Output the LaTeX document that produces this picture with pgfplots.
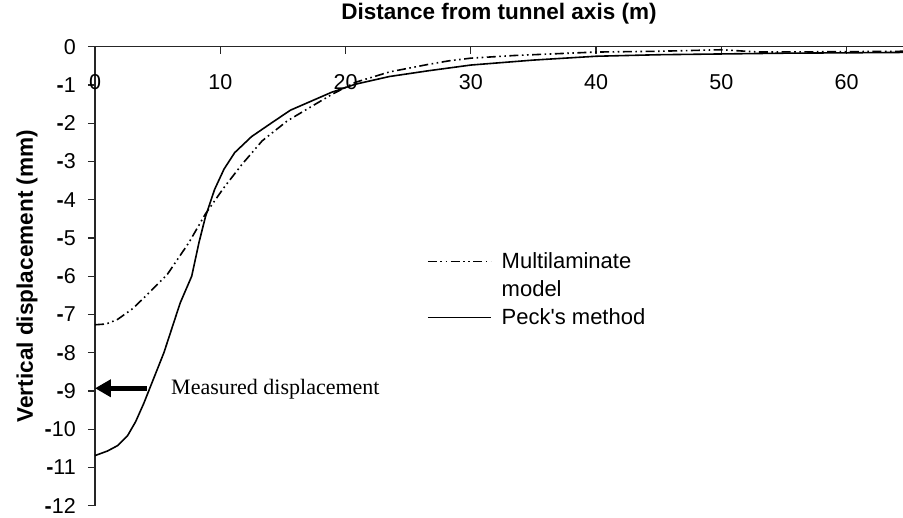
\documentclass[border=0pt]{standalone}
\usepackage{fontspec}
\setmainfont[Ligatures=TeXOff]{Liberation Sans}
\newfontfamily\serifface{Liberation Serif}
\usepackage{pgfplots}
\pgfplotsset{compat=1.18}
\usetikzlibrary{arrows.meta}

% Settlement trough predicted by Peck's empirical method
\pgfplotstableread{
x      y
0      -10.69
1.0    -10.57
1.8    -10.43
2.6    -10.17
3.25   -9.80
3.9    -9.32
5.5    -8.00
6.8    -6.70
7.72   -6.00
8.3    -5.12
8.83   -4.43
9.55   -3.73
10.3   -3.20
11.15  -2.77
12.5   -2.35
14.15  -1.98
15.6   -1.66
18.9   -1.19
20.8   -0.98
23.5   -0.78
26.6   -0.63
30     -0.48
35     -0.35
40     -0.25
45     -0.21
50     -0.19
55     -0.17
60     -0.16
64.5   -0.15
}\peck

% Settlement trough from the multilaminate model
\pgfplotstableread{
x      y
0      -7.27
0.9    -7.25
1.8    -7.13
3.0    -6.85
4.05   -6.52
5.78   -5.95
7.5    -5.12
8.8    -4.38
10.3   -3.68
11.75  -3.07
13.35  -2.46
15.35  -1.94
17.35  -1.55
18.95  -1.24
20.8   -0.93
23.5   -0.66
26.65  -0.46
28.25  -0.37
30     -0.30
33.5   -0.23
40     -0.14
45     -0.12
50     -0.08
53     -0.14
60     -0.13
64.5   -0.12
}\multi

\tikzset{
  dashdotdot/.style={dash pattern=on 9pt off 3.5pt on 1.6pt off 3.5pt on 1.6pt off 3.5pt},
  curve/.style={black, line width=1.6pt},
}
\newcommand\mn{\textbf{-}}

\begin{document}
\begin{tikzpicture}
\path[use as bounding box] (0,0) rectangle (903pt,518pt);
\begin{axis}[
  at={(95pt,12.3pt)}, anchor=south west,
  scale only axis, width=808pt, height=459pt,
  xmin=0, xmax=64.5, ymin=-12, ymax=0,
  clip=false,
  axis x line=top, axis y line=left,
  x axis line style={-}, y axis line style={-},
  axis line style={line width=1.2pt, black!85},
  xtick={0,10,...,60},
  xticklabels={0,10,20,30,40,50,60},
  ytick={-12,-11,...,0},
  yticklabels={\mn12,\mn11,\mn10,\mn9,\mn8,\mn7,\mn6,\mn5,\mn4,\mn3,\mn2,\mn1,0},
  xtick align=inside, ytick align=outside,
  major tick length=7pt,
  tick style={line width=1.2pt, black!85},
  tick label style={font=\fontsize{21.5}{25}\selectfont},
  xticklabel style={anchor=center, yshift=-35pt},
  yticklabel style={anchor=east, inner sep=0pt, xshift=-12pt},
  title={Distance from tunnel axis (m)},
  title style={at={(axis description cs:0.5,1)}, anchor=base, yshift=20.7pt,
    font=\bfseries\fontsize{22.5}{26}\selectfont},
  ylabel={Vertical displacement (mm)},
  ylabel style={at={(axis description cs:-0.077,0.5)}, anchor=base,
    font=\bfseries\fontsize{22.6}{26}\selectfont},
  legend image code/.code={\draw[#1] (0pt,0pt) -- (63pt,0pt);},
  legend cell align=left,
  legend style={at={(axis description cs:0.4108,0.4708)}, anchor=west,
    draw=none, fill=none, inner sep=0pt, column sep=10pt, row sep=0pt,
    nodes={inner sep=0pt, text height=21pt, text depth=7pt,
      font=\fontsize{22}{26}\selectfont}},
]
\addplot[curve, forget plot] table {\peck};
\addplot[curve, dashdotdot, forget plot] table {\multi};

\addlegendimage{curve, dashdotdot}
\addlegendentry{Multilaminate}
\addlegendimage{empty legend}
\addlegendentry{model}
\addlegendimage{curve}
\addlegendentry{Peck's method}

% measured settlement above the tunnel axis
\draw[line width=4.5pt, -{Triangle[length=16pt,width=17pt]}]
  (axis cs:4.15,-8.93) -- (axis cs:0,-8.93);
\node[anchor=base west, inner sep=0pt, font=\serifface\fontsize{22}{26}\selectfont]
  at (axis cs:6.07,-9.10) {Measured displacement};
\end{axis}
\end{tikzpicture}
\end{document}
